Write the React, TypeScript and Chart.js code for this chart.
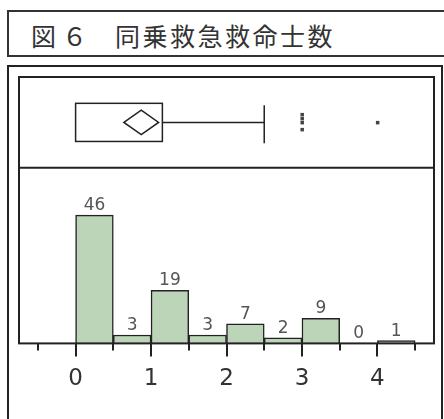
import React, { useEffect, useRef } from "react";
import { Chart, registerables } from "chart.js";

Chart.register(...registerables);

// Histogram data (bin start values, width 0.5)
const binStarts = [0, 0.5, 1, 1.5, 2, 2.5, 3, 3.5, 4];
const counts = [46, 3, 19, 3, 7, 2, 9, 0, 1];
const binWidth = 0.5;

// Axis ticks
const majorTicks = [0, 1, 2, 3, 4];
const tickLabels = ["0", "1", "2", "3", "4"];
const minorTicks = [-0.5, 0.5, 1.5, 2.5, 3.5, 4.5];

// Box plot summary
const boxQ1 = 0;
const boxQ3 = 1.15;
const meanValue = 0.87;
const meanCILow = 0.64;
const meanCIHigh = 1.1;
const whiskerHigh = 2.5;
const outlierValues = [3, 4];
const outlierJitter = [[-8, -4, 0, 7], [0]];

const titleA = "図６";
const titleB = "同乗救急救命士数";

const frameColor = "#222";

const boxPlugin = {
  id: "boxPlugin",
  beforeDraw(chart: any) {
    const ctx = chart.ctx;
    ctx.save();
    ctx.strokeStyle = frameColor;
    ctx.lineWidth = 2;
    // outer frame
    ctx.strokeRect(8, 66, 434, 380);
    ctx.restore();
  },
  afterDatasetsDraw(chart: any) {
    const ctx = chart.ctx;
    const xs = chart.scales.x;
    const yb = chart.scales.yBox;
    const yh = chart.scales.y;
    const area = chart.chartArea;
    ctx.save();
    // bar value labels
    ctx.fillStyle = "#555";
    ctx.font = "17px 'DejaVu Sans'";
    ctx.textAlign = "center";
    ctx.textBaseline = "alphabetic";
    binStarts.forEach((s, i) => {
      const cx = xs.getPixelForValue(s + binWidth / 2);
      const top = yh.getPixelForValue(counts[i]);
      ctx.fillText(String(counts[i]), cx, top - 5);
    });

    // frame around plot area
    ctx.strokeStyle = frameColor;
    ctx.lineWidth = 2;
    ctx.strokeRect(area.left, area.top, area.right - area.left, area.bottom - area.top);
    ctx.beginPath();
    ctx.moveTo(area.left, yb.bottom);
    ctx.lineTo(area.right, yb.bottom);
    ctx.stroke();

    // ticks
    ctx.lineWidth = 2;
    ctx.beginPath();
    majorTicks.forEach((v) => {
      const px = Math.round(xs.getPixelForValue(v));
      ctx.moveTo(px, area.bottom);
      ctx.lineTo(px, area.bottom + 13);
    });
    minorTicks.forEach((v) => {
      const px = Math.round(xs.getPixelForValue(v));
      ctx.moveTo(px, area.bottom);
      ctx.lineTo(px, area.bottom + 7);
    });
    ctx.stroke();

    // box plot
    const yc = yb.getPixelForValue(0.5);
    const boxTop = yb.getPixelForValue(0.71);
    const boxBot = yb.getPixelForValue(0.29);
    const x1 = xs.getPixelForValue(boxQ1);
    const x3 = xs.getPixelForValue(boxQ3);
    ctx.lineWidth = 1.5;
    ctx.strokeStyle = "#222";
    ctx.strokeRect(x1, boxTop, x3 - x1, boxBot - boxTop);
    // whisker
    const xw = xs.getPixelForValue(whiskerHigh);
    ctx.beginPath();
    ctx.moveTo(x3, yc);
    ctx.lineTo(xw, yc);
    ctx.moveTo(xw, yb.getPixelForValue(0.69));
    ctx.lineTo(xw, yb.getPixelForValue(0.27));
    ctx.stroke();
    // mean diamond
    const dTop = yb.getPixelForValue(0.635);
    const dBot = yb.getPixelForValue(0.365);
    const xm = xs.getPixelForValue(meanValue);
    ctx.beginPath();
    ctx.moveTo(xs.getPixelForValue(meanCILow), yc);
    ctx.lineTo(xm, dTop);
    ctx.lineTo(xs.getPixelForValue(meanCIHigh), yc);
    ctx.lineTo(xm, dBot);
    ctx.closePath();
    ctx.fillStyle = "#fff";
    ctx.fill();
    ctx.stroke();
    // outliers
    ctx.fillStyle = "#444";
    outlierValues.forEach((v, i) => {
      const px = xs.getPixelForValue(v);
      outlierJitter[i].forEach((off) => {
        ctx.fillRect(px - 1.5, yc + off - 1.5, 3.5, 3.5);
      });
    });
    ctx.restore();
  },
};

export default function App() {
  const ref = useRef<HTMLCanvasElement>(null);
  useEffect(() => {
    if (!ref.current) return;
    const chart = new Chart(ref.current, {
      type: "bar",
      data: {
        datasets: [
          {
            data: binStarts.map((s, i) => ({ x: s + binWidth / 2, y: counts[i] })),
            backgroundColor: "#bcd5b9",
            borderColor: "#222",
            borderWidth: 1.5,
            barPercentage: 1,
            categoryPercentage: 1,
            yAxisID: "y",
          },
        ],
      },
      options: {
        animation: false,
        responsive: false,
        devicePixelRatio: 1,
        layout: { padding: { left: 19, right: 10, top: 77, bottom: 12 } },
        plugins: { legend: { display: false }, tooltip: { enabled: false }, title: { display: false } },
        scales: {
          x: {
            type: "linear",
            offset: false,
            min: -0.75,
            max: 4.75,
            grid: { display: false, offset: false },
            border: { display: false },
            afterBuildTicks: (scale: any) => {
              scale.ticks = [...minorTicks, ...majorTicks]
                .sort((a, b) => a - b)
                .map((v) => ({ value: v }));
            },
            ticks: {
              autoSkip: false,
              maxRotation: 0,
              padding: 14,
              color: "#333",
              font: { family: "'DejaVu Sans'", size: 23 },
              callback: (v: any) => {
                const idx = majorTicks.indexOf(Number(v));
                return idx >= 0 ? tickLabels[idx] : "";
              },
            },
          },
          y: {
            type: "linear",
            position: "left",
            stack: "v",
            stackWeight: 176,
            min: 0,
            max: 63,
            display: false,
          },
          yBox: {
            type: "linear",
            position: "left",
            stack: "v",
            stackWeight: 91,
            min: 0,
            max: 1,
            display: false,
          },
        },
      },
      plugins: [boxPlugin],
    });
    return () => chart.destroy();
  }, []);

  return (
    <div style={{ position: "absolute", left: 0, top: 0, width: 444, height: 419, background: "#fff", overflow: "hidden" }}>
      <canvas ref={ref} width={444} height={419} style={{ position: "absolute", left: 0, top: 0, width: 444, height: 419 }} />
      <div
        style={{
          position: "absolute",
          left: 7,
          top: 10,
          width: 440,
          height: 47,
          border: "2px solid #333",
          background: "#fff",
          boxSizing: "border-box",
          fontFamily: "'Noto Sans CJK JP'",
          fontSize: 25,
          color: "#333",
        }}
      >
        <span style={{ position: "absolute", left: 22, top: 5, letterSpacing: 6 }}>{titleA}</span>
        <span style={{ position: "absolute", left: 106, top: 5, letterSpacing: 2.5 }}>{titleB}</span>
      </div>
    </div>
  );
}
